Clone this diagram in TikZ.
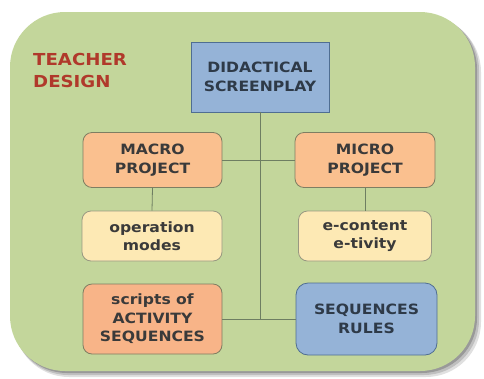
\documentclass[tikz,border=0pt]{standalone}
\usepackage{fontspec}
\setmainfont{DejaVu Sans}[FakeStretch=1.1]
\definecolor{bggreen}{HTML}{C3D69B}
\definecolor{bluefill}{HTML}{95B3D7}
\definecolor{orangefill}{HTML}{FAC08F}
\definecolor{orangedeep}{HTML}{F8B488}
\definecolor{palefill}{HTML}{FDE9B4}
\definecolor{boxline}{HTML}{7E7E62}
\definecolor{blueline}{HTML}{4F6E92}
\definecolor{conn}{HTML}{6E7E62}
\definecolor{txt}{HTML}{3A3A3A}
\definecolor{bluetxt}{HTML}{2E3A48}
\definecolor{titlered}{HTML}{B0392B}
\begin{document}
\begin{tikzpicture}[x=1pt,y=-1pt,
  boxbase/.style={line width=0.8pt, align=center, inner sep=0pt, text=txt,
    font=\bfseries\fontsize{14.2}{18.5}\selectfont},
  orangebox/.style={boxbase, draw=boxline, fill=orangefill, rounded corners=9pt},
  palebox/.style={boxbase, draw=boxline!80, fill=palefill, rounded corners=9pt},
  bluebox/.style={boxbase, draw=blueline, fill=bluefill, text=bluetxt},
  connector/.style={draw=conn, line width=0.8pt}]
\useasboundingbox (0,0) rectangle (484,378);
% shadow
\fill[black, opacity=0.12, rounded corners=55pt] (14,17) rectangle (481,377);
\fill[black, opacity=0.15, rounded corners=55pt] (13,15) rectangle (479,375);
\fill[black, opacity=0.2, rounded corners=55pt] (12,14) rectangle (477,373);
% background
\fill[bggreen, rounded corners=55pt] (10,12) rectangle (475,371);
% title
\node[anchor=north west, align=left, text=titlered, inner sep=0pt,
  font=\bfseries\fontsize{16.5}{22}\selectfont] (title) at (33,53) {TEACHER\\DESIGN};
% boxes
\node[bluebox, minimum width=138pt, minimum height=70pt] (didac) at (260,77) {DIDACTICAL\\SCREENPLAY};
\node[orangebox, minimum width=139pt, minimum height=55pt] (macro) at (152.5,160) {MACRO\\PROJECT};
\node[orangebox, minimum width=140pt, minimum height=55pt] (micro) at (365,160) {MICRO\\PROJECT};
\node[palebox, minimum width=140pt, minimum height=50pt] (opmodes) at (152,236) {operation\\modes};
\node[palebox, minimum width=133pt, minimum height=50pt] (econt) at (365,236) {e-content\\e-tivity};
\node[orangebox, fill=orangedeep, minimum width=139pt, minimum height=70pt] (scripts) at (152.5,319) {scripts of\\ACTIVITY\\SEQUENCES};
\node[bluebox, rounded corners=12pt, minimum width=141pt, minimum height=72pt] (seqrules) at (366.5,319) {SEQUENCES\\RULES};
% connectors
\coordinate (junction) at (didac.south |- scripts.east);
\path[connector] (didac.south) -- (junction);
\path[connector] (macro.east) -- (micro.west);
\path[connector] (scripts.east) -- (seqrules.west);
\path[connector] (macro.south) -- (opmodes.north);
\path[connector] (micro.south) -- (econt.north);
\end{tikzpicture}
\end{document}
